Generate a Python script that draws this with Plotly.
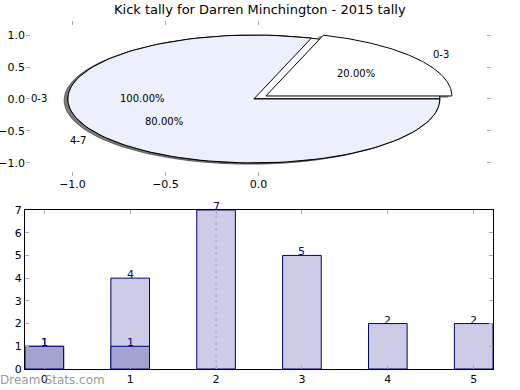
import numpy as np
import plotly.graph_objects as go

title = "Kick tally for Darren Minchington - 2015 tally"

# underlying single-slice pie
base_labels = ["0-3"]
base_values = [1]
# main pie
pie_labels = ["0-3", "4-7"]
pie_values = [1, 4]
pie_colors = ["#ffffff", "#ebf0fc"]
pie_explode = [0.08, 0.0]

# bar chart
bar_x = [0, 1, 2, 3, 4, 5]
bar_tally = [1, 4, 7, 5, 2, 2]
dark_x = [0, 1]
dark_vals = [1, 1]

FONT = "DejaVu Sans"
CX, CY = -0.025, 0.0
SHADOW_OFF = (-0.02, -0.02)


def wedge(t1, t2, cx, cy, r=1.0, n=120):
    th = np.radians(np.linspace(t1, t2, n))
    xs = np.concatenate([[cx], cx + r * np.cos(th), [cx]])
    ys = np.concatenate([[cy], cy + r * np.sin(th), [cy]])
    return xs, ys


def slices(values, explode=None):
    tot = float(sum(values))
    out = []
    a = 0.0
    for i, v in enumerate(values):
        frac = v / tot
        t1, t2 = a * 360, (a + frac) * 360
        mid = np.radians((t1 + t2) / 2)
        e = explode[i] if explode else 0.0
        cx = CX + e * np.cos(mid)
        cy = CY + e * np.sin(mid)
        out.append((t1, t2, mid, cx, cy, frac))
        a += frac
    return out


fig = go.Figure()
annotations = []

base_sl = slices(base_values)
main_sl = slices(pie_values, pie_explode)

# shadows first
for sl, cols in ((base_sl, ["#ffffff"]), (main_sl, pie_colors)):
    for (t1, t2, mid, cx, cy, frac), col in zip(sl, cols):
        xs, ys = wedge(t1, t2, cx + SHADOW_OFF[0], cy + SHADOW_OFF[1])
        fig.add_trace(go.Scatter(x=xs, y=ys, mode="lines", fill="toself",
                                 fillcolor="rgba(77,77,77,0.5)",
                                 line=dict(color="rgba(77,77,77,0.5)", width=1),
                                 hoverinfo="skip", showlegend=False,
                                 xaxis="x", yaxis="y"))

# wedges
for sl, cols, labs in ((base_sl, ["#ffffff"], base_labels), (main_sl, pie_colors, pie_labels)):
    for (t1, t2, mid, cx, cy, frac), col, lab in zip(sl, cols, labs):
        xs, ys = wedge(t1, t2, cx, cy)
        fig.add_trace(go.Scatter(x=xs, y=ys, mode="lines", fill="toself",
                                 fillcolor=col, line=dict(color="black", width=1),
                                 hoverinfo="skip", showlegend=False,
                                 xaxis="x", yaxis="y"))
        lx = cx + 1.1 * np.cos(mid)
        ly = cy + 1.1 * np.sin(mid)
        annotations.append(dict(x=lx, y=ly, xref="x", yref="y", text=lab,
                                showarrow=False, xanchor="left" if lx - CX > 0 else "right",
                                yanchor="middle", font=dict(family=FONT, size=10, color="black")))
        px = cx + 0.6 * np.cos(mid)
        py = cy + 0.6 * np.sin(mid)
        annotations.append(dict(x=px, y=py, xref="x", yref="y", text="%.2f%%" % (frac * 100),
                                showarrow=False, xanchor="center", yanchor="middle",
                                font=dict(family=FONT, size=10, color="black")))

# bars
fig.add_trace(go.Bar(x=bar_x, y=bar_tally, width=0.45, marker=dict(color="#ccccE6",
                     line=dict(color="#000080", width=1)), xaxis="x2", yaxis="y2",
                     showlegend=False, hoverinfo="skip"))
fig.add_trace(go.Bar(x=dark_x, y=dark_vals, width=0.45, marker=dict(color="#a3a3cf",
                     line=dict(color="#000080", width=1)), xaxis="x2", yaxis="y2",
                     showlegend=False, hoverinfo="skip"))
for xv, yv in list(zip(bar_x, bar_tally)) + list(zip(dark_x, dark_vals)):
    annotations.append(dict(x=xv, y=yv, xref="x2", yref="y2", text=str(yv), showarrow=False,
                            xanchor="center", yanchor="bottom", yshift=-5,
                            font=dict(family=FONT, size=11, color="#000080")))

annotations.append(dict(x=0.5, y=1.0, xref="paper", yref="paper", text=title, showarrow=False,
                        xanchor="center", yanchor="top", yshift=0,
                        font=dict(family=FONT, size=13, color="black")))
annotations.append(dict(x=0, y=0, xref="paper", yref="paper", text="Dream-Stats.com",
                        showarrow=False, xanchor="left", yanchor="bottom", xshift=-2, yshift=1,
                        font=dict(family=FONT, size=12, color="#9a9a9a")))

tick_font = dict(family=FONT, size=11, color="black")
common = dict(ticks="inside", ticklen=4, tickcolor="#aaaaaa", mirror="ticks",
              showgrid=False, zeroline=False, tickfont=tick_font, automargin=False)
fig.update_layout(
    template="none",
    width=520, height=390, autosize=False,
    margin=dict(l=0, r=0, t=0, b=0, pad=0),
    paper_bgcolor="white", plot_bgcolor="rgba(0,0,0,0)",
    barmode="overlay",
    xaxis=dict(domain=[26 / 520, 491 / 520], range=[-1.25, 1.25], anchor="y",
               tickvals=[-1.0, -0.5, 0.0], ticktext=["\u22121.0", "\u22120.5", "0.0"],
               showline=False, **common),
    yaxis=dict(domain=[1 - 176 / 390, 1 - 21 / 390], range=[-1.205, 1.22], anchor="x",
               tickvals=[-1.0, -0.5, 0.0, 0.5, 1.0],
               ticktext=["\u22121.0", "\u22120.5", "0.0", "0.5", "1.0"],
               showline=False, **common),
    xaxis2=dict(domain=[25 / 520, 493 / 520], range=[-0.225, 5.225], anchor="y2",
                tickvals=bar_x, showline=True, linecolor="black", linewidth=1, **common),
    yaxis2=dict(domain=[1 - 369 / 390, 1 - 210 / 390], range=[0, 7], anchor="x2",
                tickvals=list(range(0, 8)), showline=True, linecolor="black", linewidth=1,
                **common),
    annotations=annotations,
    shapes=[dict(type="line", xref="x2", yref="y2", x0=2, x1=2, y0=0, y1=7,
                 line=dict(color="#aaaaaa", width=1, dash="dot"), layer="above")],
)

fig.write_html("out.html", config={"displayModeBar": False},
               post_script="document.body.style.margin='0';document.body.style.padding='0';")
